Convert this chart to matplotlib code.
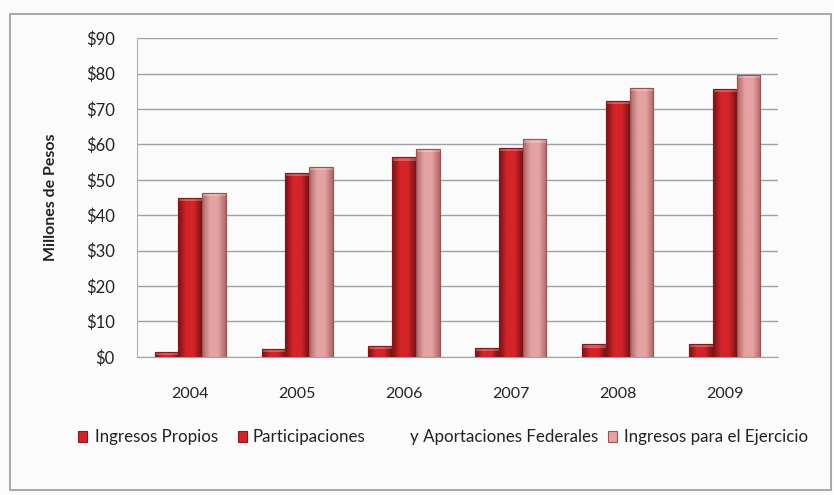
import numpy as np
import matplotlib
matplotlib.use("Agg")
import matplotlib.pyplot as plt
from matplotlib.patches import Rectangle
from matplotlib.colors import LinearSegmentedColormap

plt.rcParams['font.family'] = ['Lato', 'DejaVu Sans']

years = ["2004", "2005", "2006", "2007", "2008", "2009"]
ingresos_propios = [1.3, 2.2, 3.0, 2.6, 3.5, 3.7]
participaciones = [44.8, 51.9, 56.3, 59.0, 72.2, 75.7]
ingresos_ejercicio = [46.2, 53.7, 58.7, 61.4, 76.0, 79.7]
y_ticks = [0, 10, 20, 30, 40, 50, 60, 70, 80, 90]
series_labels = ["Ingresos Propios", "Participaciones", "y Aportaciones Federales",
                 "Ingresos para el Ejercicio"]

red_face, red_edge = "#d4242a", "#841a1c"
pink_face, pink_edge = "#e4a2a2", "#9a5656"
bg = "#fcfbfb"

fig = plt.figure(figsize=(8.34, 4.95), dpi=100, facecolor=bg)
ax = fig.add_axes([0.164, 0.279, 0.769, 0.644], facecolor=bg)

x = np.arange(len(years))
w = 0.222
series = [
    (ingresos_propios, -w, red_face, red_edge, "#761214"),
    (participaciones, 0.0, red_face, red_edge, "#761214"),
    (ingresos_ejercicio, w, pink_face, pink_edge, "#b26666"),
]

grad = np.linspace(0, 1, 64)
for vals, off, face, edge, dark in series:
    bars = ax.bar(x + off, vals, width=w, color=face, edgecolor=edge,
                  linewidth=0.8, zorder=3)
    cmap = LinearSegmentedColormap.from_list("shade", [dark, face, face, dark])
    for b in bars:
        x0, y0 = b.get_x(), b.get_y()
        bw, bh = b.get_width(), b.get_height()
        im = ax.imshow(grad[None, :], cmap=cmap, aspect="auto",
                       extent=(x0, x0 + bw, y0, y0 + bh), zorder=3.5,
                       interpolation="bilinear")
        im.set_clip_path(b)
        cap = Rectangle((x0, y0 + bh - 0.9), bw, 0.9, facecolor="white",
                        alpha=0.25, edgecolor="none", zorder=3.6)
        ax.add_patch(cap)
        ax.add_patch(Rectangle((x0, y0), bw, bh, facecolor="none",
                               edgecolor=edge, linewidth=0.8, zorder=3.7))

ax.set_xlim(-0.5, len(years) - 0.5)
ax.set_ylim(0, 90)
ax.set_yticks(y_ticks)
ax.set_yticklabels([f"${v}" for v in y_ticks], fontsize=12, color="#222222")
ax.set_xticks(x)
ax.set_xticklabels(years, fontsize=11.5, color="#222222")
ax.tick_params(axis="y", length=0, pad=16)
ax.tick_params(axis="x", length=0, pad=22)
ax.grid(axis="y", color="#a0a0aa", linewidth=1.0, zorder=0)
for s in ["top", "right"]:
    ax.spines[s].set_visible(False)
ax.spines["left"].set_color("#b0b0b8")
ax.spines["bottom"].set_color("#a0a0aa")
ax.set_ylabel("Millones de Pesos", fontsize=11.5, fontweight="bold",
              color="#222222", labelpad=20)

# outer chart frame
fig.add_artist(Rectangle((0.012, 0.01), 0.985, 0.962, transform=fig.transFigure,
                         facecolor="none", edgecolor="#9a9a9a", linewidth=1.2))

# legend
ly = 1 - 437 / 495
items = [
    (78, 95, "left", series_labels[0], red_face, red_edge),
    (238, 253, "left", series_labels[1], red_face, red_edge),
    (None, 598, "right", series_labels[2], None, None),
    (608, 624, "left", series_labels[3], pink_face, pink_edge),
]
for mx, tx, ha, label, face, edge in items:
    if mx is not None:
        fig.add_artist(Rectangle((mx / 834, ly - 0.011), 9 / 834, 11 / 495,
                                 transform=fig.transFigure, facecolor=face,
                                 edgecolor=edge, linewidth=0.8))
    fig.text(tx / 834, ly, label, fontsize=12.2, color="#222222",
             va="center", ha=ha)

fig.savefig("out.png", dpi=100, facecolor=bg)
